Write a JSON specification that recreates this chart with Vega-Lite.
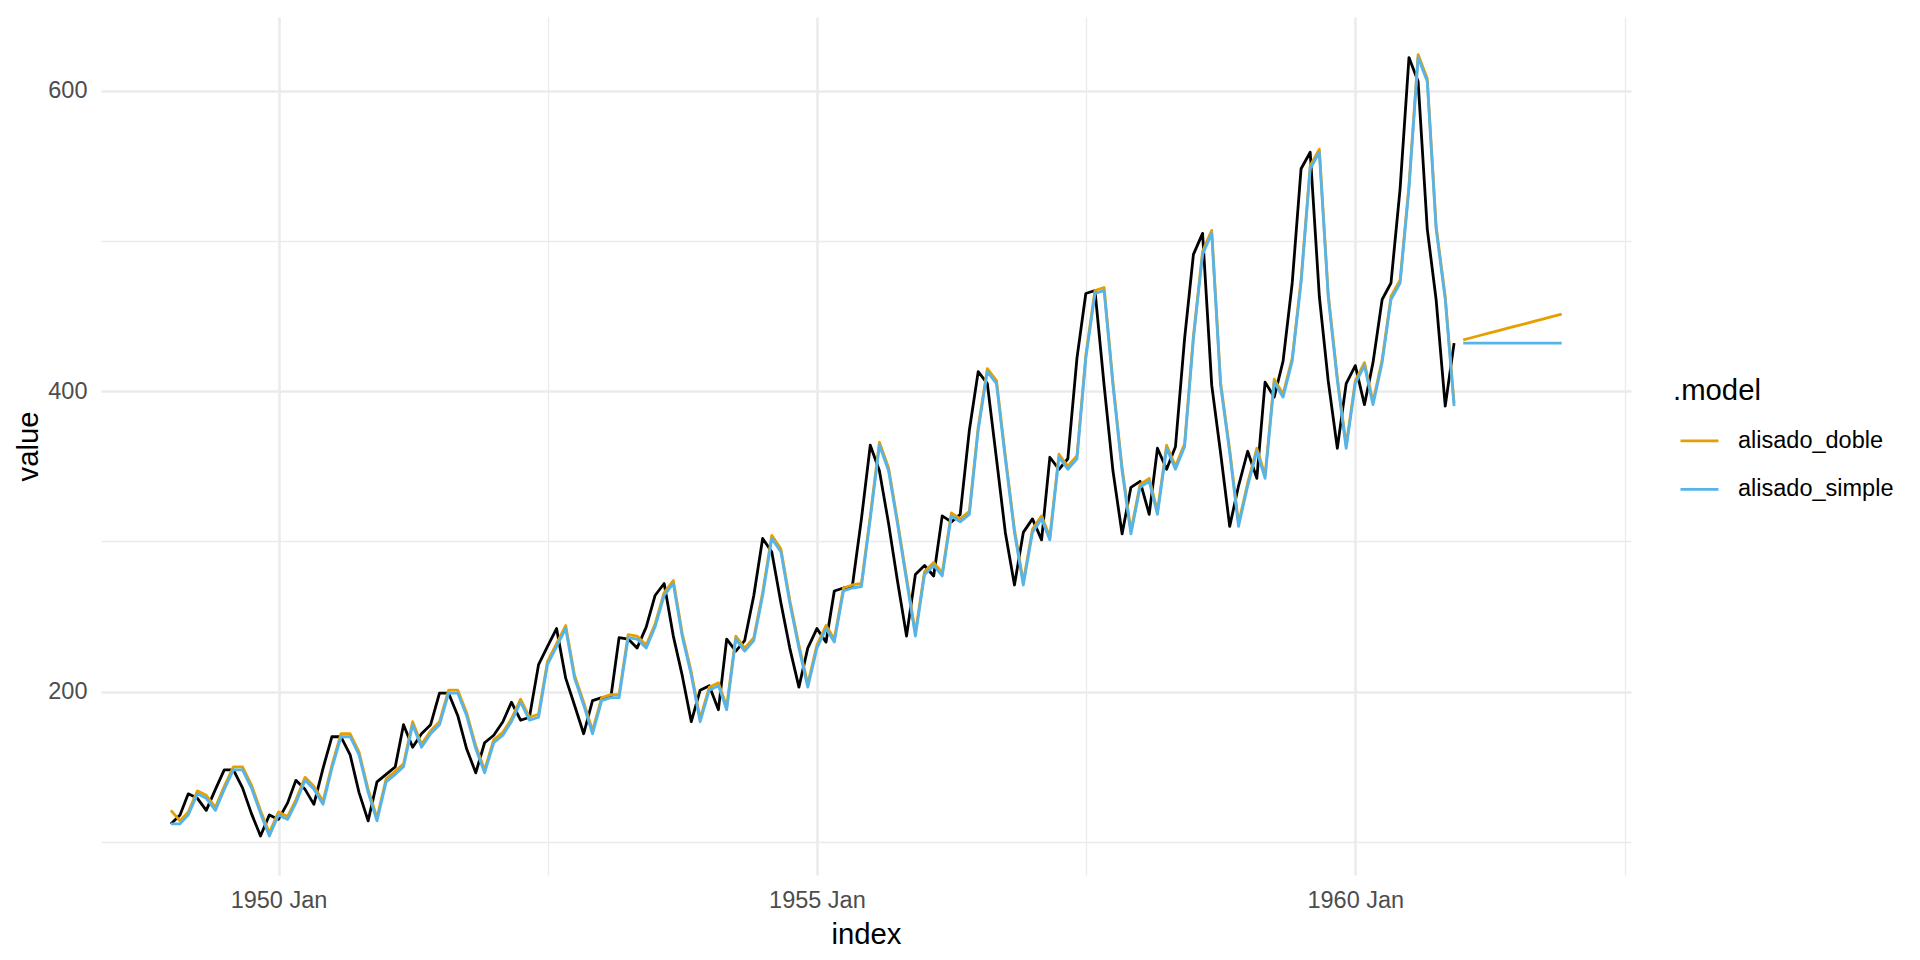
{
"$schema":"https://vega.github.io/schema/vega-lite/v6.json",
"width":1530,"height":858,
"autosize":{"type":"none"},
"padding":{"left":101,"top":17,"right":289,"bottom":85},
"background":"white",
"config":{
 "view":{"stroke":null},
 "font":"Liberation Sans",
 "axis":{"domain":false,"ticks":false,"gridColor":"#EBEBEB","labelFont":"Liberation Sans","labelFontSize":23.5,"labelColor":"#4D4D4D","titleFont":"Liberation Sans","titleFontSize":29.3,"titleFontWeight":"normal","titleColor":"black","labelOverlap":false,"labelFlush":false},
 "axisX":{"labelPadding":13,"titlePadding":9},
 "axisY":{"labelPadding":14,"titlePadding":4},
 "legend":{"orient":"none","legendX":1572,"legendY":360,"padding":0,"titleFont":"Liberation Sans","titleFontSize":29.3,"titleFontWeight":"normal","titleColor":"black","labelFont":"Liberation Sans","labelFontSize":23.5,"labelColor":"black","symbolType":"stroke","symbolSize":1444,"symbolStrokeWidth":2.8,"rowPadding":16.5,"titlePadding":14,"labelOffset":18,"symbolOffset":6}
},
"datasets":{
"obs":[
{"m":"1949-01","v":112},{"m":"1949-02","v":118},{"m":"1949-03","v":132},{"m":"1949-04","v":129},{"m":"1949-05","v":121},{"m":"1949-06","v":135},{"m":"1949-07","v":148},{"m":"1949-08","v":148},{"m":"1949-09","v":136},{"m":"1949-10","v":119},{"m":"1949-11","v":104},{"m":"1949-12","v":118},
{"m":"1950-01","v":115},{"m":"1950-02","v":126},{"m":"1950-03","v":141},{"m":"1950-04","v":135},{"m":"1950-05","v":125},{"m":"1950-06","v":149},{"m":"1950-07","v":170},{"m":"1950-08","v":170},{"m":"1950-09","v":158},{"m":"1950-10","v":133},{"m":"1950-11","v":114},{"m":"1950-12","v":140},
{"m":"1951-01","v":145},{"m":"1951-02","v":150},{"m":"1951-03","v":178},{"m":"1951-04","v":163},{"m":"1951-05","v":172},{"m":"1951-06","v":178},{"m":"1951-07","v":199},{"m":"1951-08","v":199},{"m":"1951-09","v":184},{"m":"1951-10","v":162},{"m":"1951-11","v":146},{"m":"1951-12","v":166},
{"m":"1952-01","v":171},{"m":"1952-02","v":180},{"m":"1952-03","v":193},{"m":"1952-04","v":181},{"m":"1952-05","v":183},{"m":"1952-06","v":218},{"m":"1952-07","v":230},{"m":"1952-08","v":242},{"m":"1952-09","v":209},{"m":"1952-10","v":191},{"m":"1952-11","v":172},{"m":"1952-12","v":194},
{"m":"1953-01","v":196},{"m":"1953-02","v":196},{"m":"1953-03","v":236},{"m":"1953-04","v":235},{"m":"1953-05","v":229},{"m":"1953-06","v":243},{"m":"1953-07","v":264},{"m":"1953-08","v":272},{"m":"1953-09","v":237},{"m":"1953-10","v":211},{"m":"1953-11","v":180},{"m":"1953-12","v":201},
{"m":"1954-01","v":204},{"m":"1954-02","v":188},{"m":"1954-03","v":235},{"m":"1954-04","v":227},{"m":"1954-05","v":234},{"m":"1954-06","v":264},{"m":"1954-07","v":302},{"m":"1954-08","v":293},{"m":"1954-09","v":259},{"m":"1954-10","v":229},{"m":"1954-11","v":203},{"m":"1954-12","v":229},
{"m":"1955-01","v":242},{"m":"1955-02","v":233},{"m":"1955-03","v":267},{"m":"1955-04","v":269},{"m":"1955-05","v":270},{"m":"1955-06","v":315},{"m":"1955-07","v":364},{"m":"1955-08","v":347},{"m":"1955-09","v":312},{"m":"1955-10","v":274},{"m":"1955-11","v":237},{"m":"1955-12","v":278},
{"m":"1956-01","v":284},{"m":"1956-02","v":277},{"m":"1956-03","v":317},{"m":"1956-04","v":313},{"m":"1956-05","v":318},{"m":"1956-06","v":374},{"m":"1956-07","v":413},{"m":"1956-08","v":405},{"m":"1956-09","v":355},{"m":"1956-10","v":306},{"m":"1956-11","v":271},{"m":"1956-12","v":306},
{"m":"1957-01","v":315},{"m":"1957-02","v":301},{"m":"1957-03","v":356},{"m":"1957-04","v":348},{"m":"1957-05","v":355},{"m":"1957-06","v":422},{"m":"1957-07","v":465},{"m":"1957-08","v":467},{"m":"1957-09","v":404},{"m":"1957-10","v":347},{"m":"1957-11","v":305},{"m":"1957-12","v":336},
{"m":"1958-01","v":340},{"m":"1958-02","v":318},{"m":"1958-03","v":362},{"m":"1958-04","v":348},{"m":"1958-05","v":363},{"m":"1958-06","v":435},{"m":"1958-07","v":491},{"m":"1958-08","v":505},{"m":"1958-09","v":404},{"m":"1958-10","v":359},{"m":"1958-11","v":310},{"m":"1958-12","v":337},
{"m":"1959-01","v":360},{"m":"1959-02","v":342},{"m":"1959-03","v":406},{"m":"1959-04","v":396},{"m":"1959-05","v":420},{"m":"1959-06","v":472},{"m":"1959-07","v":548},{"m":"1959-08","v":559},{"m":"1959-09","v":463},{"m":"1959-10","v":407},{"m":"1959-11","v":362},{"m":"1959-12","v":405},
{"m":"1960-01","v":417},{"m":"1960-02","v":391},{"m":"1960-03","v":419},{"m":"1960-04","v":461},{"m":"1960-05","v":472},{"m":"1960-06","v":535},{"m":"1960-07","v":622},{"m":"1960-08","v":606},{"m":"1960-09","v":508},{"m":"1960-10","v":461},{"m":"1960-11","v":390},{"m":"1960-12","v":432}
],
"sfit":[
{"m":"1949-01","v":112},{"m":"1949-02","v":112},{"m":"1949-03","v":118},{"m":"1949-04","v":132},{"m":"1949-05","v":129},{"m":"1949-06","v":121},{"m":"1949-07","v":135},{"m":"1949-08","v":148},{"m":"1949-09","v":148},{"m":"1949-10","v":136},{"m":"1949-11","v":119},{"m":"1949-12","v":104},
{"m":"1950-01","v":118},{"m":"1950-02","v":115},{"m":"1950-03","v":126},{"m":"1950-04","v":141},{"m":"1950-05","v":135},{"m":"1950-06","v":125},{"m":"1950-07","v":149},{"m":"1950-08","v":170},{"m":"1950-09","v":170},{"m":"1950-10","v":158},{"m":"1950-11","v":133},{"m":"1950-12","v":114},
{"m":"1951-01","v":140},{"m":"1951-02","v":145},{"m":"1951-03","v":150},{"m":"1951-04","v":178},{"m":"1951-05","v":163},{"m":"1951-06","v":172},{"m":"1951-07","v":178},{"m":"1951-08","v":199},{"m":"1951-09","v":199},{"m":"1951-10","v":184},{"m":"1951-11","v":162},{"m":"1951-12","v":146},
{"m":"1952-01","v":166},{"m":"1952-02","v":171},{"m":"1952-03","v":180},{"m":"1952-04","v":193},{"m":"1952-05","v":181},{"m":"1952-06","v":183},{"m":"1952-07","v":218},{"m":"1952-08","v":230},{"m":"1952-09","v":242},{"m":"1952-10","v":209},{"m":"1952-11","v":191},{"m":"1952-12","v":172},
{"m":"1953-01","v":194},{"m":"1953-02","v":196},{"m":"1953-03","v":196},{"m":"1953-04","v":236},{"m":"1953-05","v":235},{"m":"1953-06","v":229},{"m":"1953-07","v":243},{"m":"1953-08","v":264},{"m":"1953-09","v":272},{"m":"1953-10","v":237},{"m":"1953-11","v":211},{"m":"1953-12","v":180},
{"m":"1954-01","v":201},{"m":"1954-02","v":204},{"m":"1954-03","v":188},{"m":"1954-04","v":235},{"m":"1954-05","v":227},{"m":"1954-06","v":234},{"m":"1954-07","v":264},{"m":"1954-08","v":302},{"m":"1954-09","v":293},{"m":"1954-10","v":259},{"m":"1954-11","v":229},{"m":"1954-12","v":203},
{"m":"1955-01","v":229},{"m":"1955-02","v":242},{"m":"1955-03","v":233},{"m":"1955-04","v":267},{"m":"1955-05","v":269},{"m":"1955-06","v":270},{"m":"1955-07","v":315},{"m":"1955-08","v":364},{"m":"1955-09","v":347},{"m":"1955-10","v":312},{"m":"1955-11","v":274},{"m":"1955-12","v":237},
{"m":"1956-01","v":278},{"m":"1956-02","v":284},{"m":"1956-03","v":277},{"m":"1956-04","v":317},{"m":"1956-05","v":313},{"m":"1956-06","v":318},{"m":"1956-07","v":374},{"m":"1956-08","v":413},{"m":"1956-09","v":405},{"m":"1956-10","v":355},{"m":"1956-11","v":306},{"m":"1956-12","v":271},
{"m":"1957-01","v":306},{"m":"1957-02","v":315},{"m":"1957-03","v":301},{"m":"1957-04","v":356},{"m":"1957-05","v":348},{"m":"1957-06","v":355},{"m":"1957-07","v":422},{"m":"1957-08","v":465},{"m":"1957-09","v":467},{"m":"1957-10","v":404},{"m":"1957-11","v":347},{"m":"1957-12","v":305},
{"m":"1958-01","v":336},{"m":"1958-02","v":340},{"m":"1958-03","v":318},{"m":"1958-04","v":362},{"m":"1958-05","v":348},{"m":"1958-06","v":363},{"m":"1958-07","v":435},{"m":"1958-08","v":491},{"m":"1958-09","v":505},{"m":"1958-10","v":404},{"m":"1958-11","v":359},{"m":"1958-12","v":310},
{"m":"1959-01","v":337},{"m":"1959-02","v":360},{"m":"1959-03","v":342},{"m":"1959-04","v":406},{"m":"1959-05","v":396},{"m":"1959-06","v":420},{"m":"1959-07","v":472},{"m":"1959-08","v":548},{"m":"1959-09","v":559},{"m":"1959-10","v":463},{"m":"1959-11","v":407},{"m":"1959-12","v":362},
{"m":"1960-01","v":405},{"m":"1960-02","v":417},{"m":"1960-03","v":391},{"m":"1960-04","v":419},{"m":"1960-05","v":461},{"m":"1960-06","v":472},{"m":"1960-07","v":535},{"m":"1960-08","v":622},{"m":"1960-09","v":606},{"m":"1960-10","v":508},{"m":"1960-11","v":461},{"m":"1960-12","v":390}
],
"dfit":[
{"m":"1949-01","v":121},{"m":"1949-02","v":114},{"m":"1949-03","v":120},{"m":"1949-04","v":134},{"m":"1949-05","v":131},{"m":"1949-06","v":123},{"m":"1949-07","v":137},{"m":"1949-08","v":150},{"m":"1949-09","v":150},{"m":"1949-10","v":138},{"m":"1949-11","v":121},{"m":"1949-12","v":106},
{"m":"1950-01","v":120},{"m":"1950-02","v":117},{"m":"1950-03","v":128},{"m":"1950-04","v":143},{"m":"1950-05","v":137},{"m":"1950-06","v":127},{"m":"1950-07","v":151},{"m":"1950-08","v":172},{"m":"1950-09","v":172},{"m":"1950-10","v":160},{"m":"1950-11","v":135},{"m":"1950-12","v":116},
{"m":"1951-01","v":142},{"m":"1951-02","v":147},{"m":"1951-03","v":152},{"m":"1951-04","v":180},{"m":"1951-05","v":165},{"m":"1951-06","v":174},{"m":"1951-07","v":180},{"m":"1951-08","v":201},{"m":"1951-09","v":201},{"m":"1951-10","v":186},{"m":"1951-11","v":164},{"m":"1951-12","v":148},
{"m":"1952-01","v":168},{"m":"1952-02","v":173},{"m":"1952-03","v":182},{"m":"1952-04","v":195},{"m":"1952-05","v":183},{"m":"1952-06","v":185},{"m":"1952-07","v":220},{"m":"1952-08","v":232},{"m":"1952-09","v":244},{"m":"1952-10","v":211},{"m":"1952-11","v":193},{"m":"1952-12","v":174},
{"m":"1953-01","v":196},{"m":"1953-02","v":198},{"m":"1953-03","v":198},{"m":"1953-04","v":238},{"m":"1953-05","v":237},{"m":"1953-06","v":231},{"m":"1953-07","v":245},{"m":"1953-08","v":266},{"m":"1953-09","v":274},{"m":"1953-10","v":239},{"m":"1953-11","v":213},{"m":"1953-12","v":182},
{"m":"1954-01","v":203},{"m":"1954-02","v":206},{"m":"1954-03","v":190},{"m":"1954-04","v":237},{"m":"1954-05","v":229},{"m":"1954-06","v":236},{"m":"1954-07","v":266},{"m":"1954-08","v":304},{"m":"1954-09","v":295},{"m":"1954-10","v":261},{"m":"1954-11","v":231},{"m":"1954-12","v":205},
{"m":"1955-01","v":231},{"m":"1955-02","v":244},{"m":"1955-03","v":235},{"m":"1955-04","v":269},{"m":"1955-05","v":271},{"m":"1955-06","v":272},{"m":"1955-07","v":317},{"m":"1955-08","v":366},{"m":"1955-09","v":349},{"m":"1955-10","v":314},{"m":"1955-11","v":276},{"m":"1955-12","v":239},
{"m":"1956-01","v":280},{"m":"1956-02","v":286},{"m":"1956-03","v":279},{"m":"1956-04","v":319},{"m":"1956-05","v":315},{"m":"1956-06","v":320},{"m":"1956-07","v":376},{"m":"1956-08","v":415},{"m":"1956-09","v":407},{"m":"1956-10","v":357},{"m":"1956-11","v":308},{"m":"1956-12","v":273},
{"m":"1957-01","v":308},{"m":"1957-02","v":317},{"m":"1957-03","v":303},{"m":"1957-04","v":358},{"m":"1957-05","v":350},{"m":"1957-06","v":357},{"m":"1957-07","v":424},{"m":"1957-08","v":467},{"m":"1957-09","v":469},{"m":"1957-10","v":406},{"m":"1957-11","v":349},{"m":"1957-12","v":307},
{"m":"1958-01","v":338},{"m":"1958-02","v":342},{"m":"1958-03","v":320},{"m":"1958-04","v":364},{"m":"1958-05","v":350},{"m":"1958-06","v":365},{"m":"1958-07","v":437},{"m":"1958-08","v":493},{"m":"1958-09","v":507},{"m":"1958-10","v":406},{"m":"1958-11","v":361},{"m":"1958-12","v":312},
{"m":"1959-01","v":339},{"m":"1959-02","v":362},{"m":"1959-03","v":344},{"m":"1959-04","v":408},{"m":"1959-05","v":398},{"m":"1959-06","v":422},{"m":"1959-07","v":474},{"m":"1959-08","v":550},{"m":"1959-09","v":561},{"m":"1959-10","v":465},{"m":"1959-11","v":409},{"m":"1959-12","v":364},
{"m":"1960-01","v":407},{"m":"1960-02","v":419},{"m":"1960-03","v":393},{"m":"1960-04","v":421},{"m":"1960-05","v":463},{"m":"1960-06","v":474},{"m":"1960-07","v":537},{"m":"1960-08","v":624},{"m":"1960-09","v":608},{"m":"1960-10","v":510},{"m":"1960-11","v":463},{"m":"1960-12","v":392}
],
"sfc":[
{"m":"1961-01","v":432},{"m":"1961-02","v":432},{"m":"1961-03","v":432},{"m":"1961-04","v":432},{"m":"1961-05","v":432},{"m":"1961-06","v":432},{"m":"1961-07","v":432},{"m":"1961-08","v":432},{"m":"1961-09","v":432},{"m":"1961-10","v":432},{"m":"1961-11","v":432},{"m":"1961-12","v":432}
],
"dfc":[
{"m":"1961-01","v":434.1},{"m":"1961-02","v":435.7},{"m":"1961-03","v":437.2},{"m":"1961-04","v":438.8},{"m":"1961-05","v":440.3},{"m":"1961-06","v":441.9},{"m":"1961-07","v":443.5},{"m":"1961-08","v":445.0},{"m":"1961-09","v":446.6},{"m":"1961-10","v":448.1},{"m":"1961-11","v":449.7},{"m":"1961-12","v":451.3}
]
},
"encoding":{
 "x":{"field":"m","type":"temporal","scale":{"type":"utc","domain":[{"year":1948,"month":5,"date":9,"utc":true},{"year":1962,"month":7,"date":24,"utc":true}]},
  "axis":{"title":"index","values":[{"year":1950,"month":1,"date":1,"utc":true},{"year":1952,"month":7,"date":2,"utc":true},{"year":1955,"month":1,"date":1,"utc":true},{"year":1957,"month":7,"date":2,"utc":true},{"year":1960,"month":1,"date":1,"utc":true},{"year":1962,"month":7,"date":2,"utc":true}],
   "labelExpr":"utcmonth(datum.value) === 0 ? utcFormat(datum.value, '%Y %b') : ''",
   "gridWidth":{"condition":{"test":"utcmonth(datum.value) === 0","value":2.6},"value":1.3}}},
 "y":{"field":"v","type":"quantitative","scale":{"domain":[78,649],"nice":false,"zero":false},
  "axis":{"title":"value","values":[100,200,300,400,500,600],
   "labelExpr":"datum.value % 200 === 0 ? datum.label : ''",
   "gridWidth":{"condition":{"test":"datum.value % 200 === 0","value":2.6},"value":1.3}}}
},
"layer":[
 {"data":{"name":"obs"},"mark":{"type":"line","color":"black","strokeWidth":2.8,"strokeJoin":"round"}},
 {"data":{"name":"dfit"},"mark":{"type":"line","strokeWidth":2.8,"strokeJoin":"round"},
  "encoding":{"color":{"datum":"alisado_doble","type":"nominal","scale":{"domain":["alisado_doble","alisado_simple"],"range":["#E69F00","#56B4E9"]},"legend":{"title":".model"}}}},
 {"data":{"name":"dfc"},"mark":{"type":"line","strokeWidth":2.8,"strokeJoin":"round"},
  "encoding":{"color":{"datum":"alisado_doble","type":"nominal"}}},
 {"data":{"name":"sfit"},"mark":{"type":"line","strokeWidth":2.8,"strokeJoin":"round"},
  "encoding":{"color":{"datum":"alisado_simple","type":"nominal"}}},
 {"data":{"name":"sfc"},"mark":{"type":"line","strokeWidth":2.8,"strokeJoin":"round"},
  "encoding":{"color":{"datum":"alisado_simple","type":"nominal"}}}
]
}
